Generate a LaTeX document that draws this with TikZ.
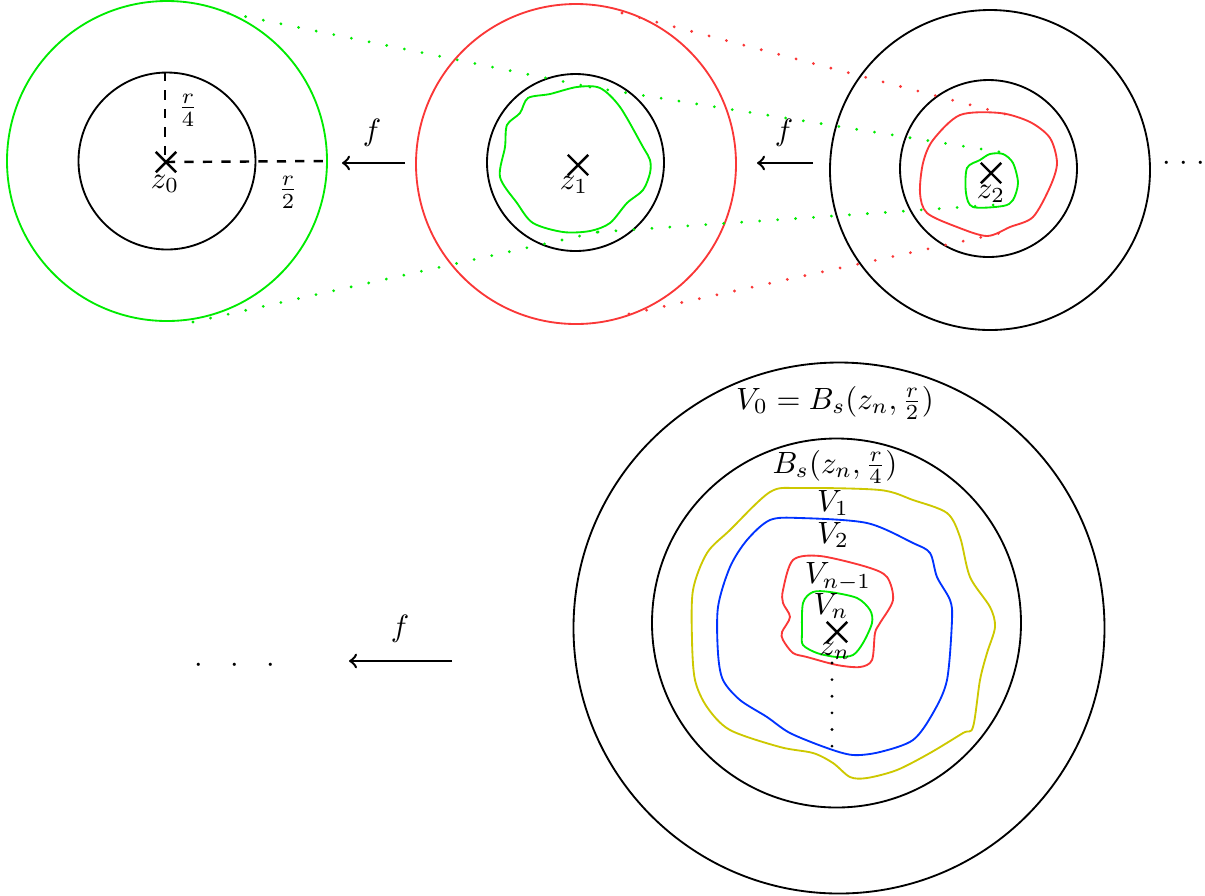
\documentclass[tikz,border=0pt]{standalone}
\usetikzlibrary{shapes.misc}
\definecolor{myred}{RGB}{250,55,55}
\definecolor{mygreen}{RGB}{0,235,0}
\definecolor{myblue}{RGB}{0,50,255}
\definecolor{myyellow}{RGB}{205,200,0}
\begin{document}
\begin{tikzpicture}[x=0.325pt,y=-0.325pt,
  circ/.style={semithick},
  blob/.style={semithick},
  dotline/.style={line width=1pt, dash pattern=on 0pt off 5.85pt, line cap=round},
  vdotline/.style={line width=1pt, dash pattern=on 0pt off 5.4pt, line cap=round},
  crossmark/.style={cross out, draw, thick, minimum size=5.8pt, inner sep=0pt},
  lbl/.style={inner sep=0pt},
  maparrow/.style={thick,->},
  radline/.style={thick, dashed}
]
\useasboundingbox (0,0) rectangle (1205,895);

% ---------- top row centres ----------
\coordinate (c0) at (167,161);
\coordinate (c1) at (576,164);
\coordinate (c1i) at (575.5,162.5);
\coordinate (c2) at (990,170);
\coordinate (c2i) at (988.5,168.5);

% circle 0
\draw[circ, mygreen] (c0) circle[radius=160];
\draw[circ] (c0) circle[radius=88.5];
\node[crossmark] (x0) at (166,162) {};
\node[lbl] (z0) at (165,184) {$z_0$};
\coordinate (t0) at (165,72);
\coordinate (r0) at (328,161);
\draw[radline] (t0) -- (165,161);
\draw[radline] (x0.center) -- (r0);
\node[lbl] (q4) at (188,110) {$\frac{r}{4}$};
\node[lbl] (q2) at (288,192) {$\frac{r}{2}$};

% circle 1
\draw[circ, myred] (c1) circle[radius=160];
\draw[circ] (c1i) circle[radius=88.5];
\node[crossmark] (x1) at (578,165) {};
\node[lbl] (z1) at (574,185) {$z_1$};
\draw[blob, mygreen] plot[smooth cycle, tension=0.5] coordinates {
 (528,98) (550,94) (577,87) (600,88) (620,107) (643,147) (650,160) (650,173)
 (643,190) (627,203) (610,223) (590,231) (563,232) (533,223) (517,203)
 (500,177) (505,147) (507,125) (520,113)};

% circle 2
\draw[circ] (c2) circle[radius=160];
\draw[circ] (c2i) circle[radius=88.5];
\draw[blob, myred] plot[smooth cycle, tension=0.5] coordinates {
 (960,115) (1000,113) (1030,122) (1050,138) (1057,163) (1050,187) (1033,217)
 (1010,227) (987,236) (957,227) (927,213) (920,193) (923,163) (933,140)};
\draw[blob, mygreen] plot[smooth cycle, tension=0.5] coordinates {
 (980,160) (990,154) (1003,154) (1013,163) (1018,183) (1013,200) (1003,206)
 (973,207) (966,193) (967,168)};
\node[crossmark] (x2) at (991,173) {};
\node[lbl] (z2) at (991,194) {$z_2$};

% arrows
\coordinate (a1s) at (405,163); \coordinate (a1e) at (342,163);
\draw[maparrow] (a1s) -- (a1e);
\node[lbl] (f1) at (372,133) {$f$};
\coordinate (a2s) at (813,163); \coordinate (a2e) at (757,163);
\draw[maparrow] (a2s) -- (a2e);
\node[lbl] (f2) at (784,133) {$f$};

\node[lbl, anchor=base] (dr) at (1183.5,170.7)
  {\makebox[5.5pt]{$\cdot$}\makebox[5.5pt]{$\cdot$}\makebox[5.5pt]{$\cdot$}};

% dotted connectors
\coordinate (gu0) at (228,13); \coordinate (gu1) at (590,87); \coordinate (gu2) at (1000,152);
\coordinate (gl0) at (193,322); \coordinate (gl1) at (598,232); \coordinate (gl2) at (1008,204);
\coordinate (ru1) at (622,13); \coordinate (ru2) at (1020,118);
\coordinate (rl1) at (629,314); \coordinate (rl2) at (1005,232);
\draw[dotline, mygreen] (gu0) -- (gu1);
\draw[dotline, mygreen] (gu1) -- (gu2);
\draw[dotline, mygreen] (gl0) -- (gl1);
\draw[dotline, mygreen] (gl1) -- (gl2);
\draw[dotline, myred] (ru1) -- (ru2);
\draw[dotline, myred] (rl1) -- (rl2);

% ---------- bottom ----------
\coordinate (cb) at (839,628);
\coordinate (cbi) at (836.5,623);
\draw[circ] (cb) circle[radius=265.5];
\draw[circ] (cbi) circle[radius=184.5];

\draw[blob, myyellow] plot[smooth cycle, tension=0.5] coordinates {
 (770,492) (800,488) (880,490) (913,500) (947,513) (960,537) (970,577) (990,607)
 (995,627) (987,653) (980,680) (973,727) (963,733) (930,753) (897,770) (867,778)
 (850,777) (833,763) (813,753) (780,747) (730,730) (707,707) (695,680) (692,640)
 (693,590) (707,553) (730,530)};
\draw[blob, myblue] plot[smooth cycle, tension=0.5] coordinates {
 (770,520) (800,518) (867,523) (913,543) (930,553) (937,577) (950,600) (952,620)
 (947,680) (933,713) (913,740) (880,752) (853,755) (827,748) (790,733) (767,717)
 (740,700) (723,680) (718,653) (718,607) (730,567) (747,540)};
\draw[blob, myred] plot[smooth cycle, tension=0.5] coordinates {
 (793,560) (820,556) (867,567) (887,577) (893,600) (880,623) (875,633) (872,660)
 (860,667) (837,665) (807,657) (793,653) (783,640) (782,632) (790,617) (783,603)
 (783,590)};
\draw[blob, mygreen] plot[smooth cycle, tension=0.5] coordinates {
 (813,592) (830,592) (857,598) (870,610) (872,623) (863,643) (853,655) (837,657)
 (817,653) (803,645) (802,633) (803,603)};

\node[crossmark] (xn) at (837,632) {};
\node[lbl] (zn) at (835,651) {$z_n$};
\node[lbl] (v0) at (835,403) {$V_0=B_s(z_n,\frac{r}{2})$};
\node[lbl] (bs) at (835,467) {$B_s(z_n,\frac{r}{4})$};
\node[lbl] (v1) at (833,503) {$V_1$};
\node[lbl] (v2) at (833,535) {$V_2$};
\node[lbl] (vn1) at (838,577) {$V_{n-1}$};
\node[lbl] (vn) at (831,606) {$V_n$};
\coordinate (vd0) at (832,663); \coordinate (vd1) at (832,749);
\draw[vdotline] (vd0) -- (vd1);

\coordinate (a3s) at (452,661); \coordinate (a3e) at (349,661);
\draw[maparrow] (a3s) -- (a3e);
\node[lbl] (f3) at (400,629) {$f$};
\node[lbl, anchor=base] (dl) at (235,672)
  {\makebox[11.7pt]{$\cdot$}\makebox[11.7pt]{$\cdot$}\makebox[11.7pt]{$\cdot$}};
\end{tikzpicture}
\end{document}
